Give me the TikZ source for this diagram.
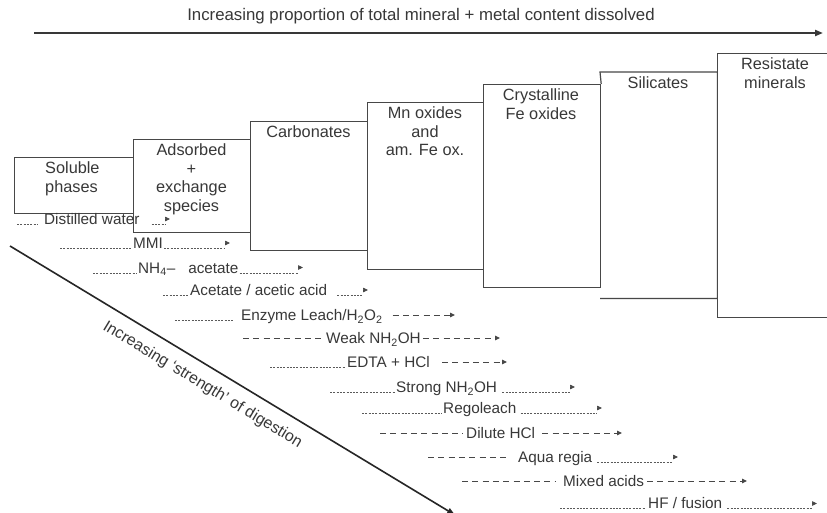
\documentclass[tikz,border=0pt]{standalone}
\usepackage{fontspec}
\setmainfont{Liberation Sans}
\usetikzlibrary{arrows.meta}
\definecolor{ink}{HTML}{383838}
\definecolor{edge}{HTML}{474747}
\definecolor{dotc}{HTML}{5A5A5A}
\begin{document}
\begin{tikzpicture}[x=1pt,y=-1pt,
  box/.style={draw=edge, line width=1.2pt, fill=white, inner sep=0pt, anchor=north west},
  btext/.style={font=\fontsize{16.3}{18.5}\selectfont, text=ink, align=center, inner sep=0pt, anchor=north},
  meth/.style={font=\fontsize{15.3}{18}\selectfont, text=ink, inner sep=0pt, anchor=base west},
  fine/.style={draw=dotc, line width=0.75pt, dash pattern=on 2pt off 1.3pt},
  longdash/.style={draw=edge, line width=1pt, dash pattern=on 6pt off 4.3pt},
  tip/.style={-{Triangle[length=5pt,width=4.5pt]}},
  tiponly/.style={draw=edge, line width=0.7pt, -{Triangle[length=5pt,width=4.5pt]}}
]
\useasboundingbox (0,0) rectangle (827,512);
\fill[white] (0,0) rectangle (827,512);

% title and top arrow
\node[font=\fontsize{16.8}{20}\selectfont, text=ink, inner sep=0pt] (title) at (421,16) {Increasing proportion of total mineral + metal content dissolved};
\coordinate (ta) at (34,33);
\coordinate (tb) at (823,33);
\draw[draw=ink, line width=2.2pt, -{Triangle[length=8pt,width=6pt]}] (ta) -- (tb);

% boxes
\node[box, minimum width=119pt, minimum height=56pt] (sol) at (14,157) {};
\node[box, minimum width=117pt, minimum height=93pt] (ads) at (133,139) {};
\node[box, minimum width=117pt, minimum height=129pt] (carb) at (250,121) {};
\node[box, minimum width=116pt, minimum height=167pt] (mn) at (367,102) {};
\node[box, minimum width=117pt, minimum height=203pt] (cry) at (483,84) {};
\node[inner sep=0pt, anchor=north west, minimum width=117pt, minimum height=226pt] (sil) at (600,72) {};
\draw[draw=edge, line width=1.2pt] (cry.north east) -- (sil.north west) -- (sil.north east) -- (sil.south east) -- (sil.south west);
\node[box, minimum width=140pt, minimum height=264pt] (res) at (717,53) {};

\node[btext, anchor=north west, align=left] (solt) at (45,161.5) {Soluble\\phases};
\node[btext] (adst) at (191.5,143.5) {Adsorbed\\+\\exchange\\species};
\node[btext] (carbt) at (308.5,125.5) {Carbonates};
\node[btext] (mnt) at (425,106.5) {Mn oxides\\and\\am. Fe ox.};
\node[btext] (cryt) at (541,88.5) {Crystalline\\Fe oxides};
\node[btext] (silt) at (658,76.5) {Silicates};
\node[btext] (rest) at (775,57.5) {Resistate\\minerals};

% diagonal arrow
\coordinate (d1) at (10,246);
\coordinate (d2) at (455,515);
\draw[draw=black!85, line width=1.6pt, -{Triangle[length=8pt,width=6pt]}] (d1) -- (d2)
  node[pos=0.455, sloped, below=10pt, inner sep=1pt, font=\fontsize{16}{18}\selectfont, text=ink] (dl) {Increasing ‘strength’ of digestion};

% method rows
% 1
\node[meth] (m1) at (44,224.5) {Distilled water};
\coordinate (m1s) at (17,224.5); \coordinate (m1e) at (170,219);
\draw[fine] (m1s) -- ([xshift=-7pt]m1.base west);
\draw[fine] ([xshift=12pt]m1.base east) -- ([xshift=-5pt]m1e |- m1.base);
\draw[tiponly] ([xshift=-5pt]m1e) -- (m1e);
% 2
\node[meth] (m2) at (133,248.5) {MMI};
\coordinate (m2s) at (60,248.5); \coordinate (m2e) at (230,243);
\draw[fine] (m2s) -- ([xshift=-1pt]m2.base west);
\draw[fine] ([xshift=1pt]m2.base east) -- ([xshift=-5pt]m2e |- m2.base);
\draw[tiponly] ([xshift=-5pt]m2e) -- (m2e);
% 3
\node[meth] (m3) at (138,273) {NH\textsubscript{4}–\hspace{13pt}acetate};
\coordinate (m3s) at (93,273); \coordinate (m3e) at (303,267.5);
\draw[fine] (m3s) -- ([xshift=-1pt]m3.base west);
\draw[fine] ([xshift=1pt]m3.base east) -- ([xshift=-5pt]m3e |- m3.base);
\draw[tiponly] ([xshift=-5pt]m3e) -- (m3e);
% 4
\node[meth] (m4) at (190,295.5) {Acetate / acetic acid};
\coordinate (m4s) at (163,295.5); \coordinate (m4e) at (368,290);
\draw[fine] (m4s) -- ([xshift=-2pt]m4.base west);
\draw[fine] ([xshift=10pt]m4.base east) -- ([xshift=-5pt]m4e |- m4.base);
\draw[tiponly] ([xshift=-5pt]m4e) -- (m4e);
% 5
\node[meth] (m5) at (241,320.5) {Enzyme Leach/H\textsubscript{2}O\textsubscript{2}};
\coordinate (m5s) at (175,320.5); \coordinate (m5e) at (455,315);
\draw[fine] (m5s) -- ([xshift=-8pt]m5.base west);
\draw[longdash, tip] ([xshift=10pt, yshift=5.5pt]m5.base east) -- (m5e);
% 6
\node[meth] (m6) at (326,343.5) {Weak NH\textsubscript{2}OH};
\coordinate (m6s) at (243,338); \coordinate (m6e) at (500,338);
\draw[longdash] (m6s) -- ([xshift=-3pt, yshift=5.5pt]m6.base west);
\draw[longdash, tip] ([xshift=2pt, yshift=5.5pt]m6.base east) -- (m6e);
% 7
\node[meth] (m7) at (347,367.5) {EDTA + HCl};
\coordinate (m7s) at (270,367.5); \coordinate (m7e) at (507,362);
\draw[fine] (m7s) -- ([xshift=-2pt]m7.base west);
\draw[longdash, tip] ([xshift=12pt, yshift=5.5pt]m7.base east) -- (m7e);
% 8
\node[meth] (m8) at (396,392.5) {Strong NH\textsubscript{2}OH};
\coordinate (m8s) at (330,392.5); \coordinate (m8e) at (575,387);
\draw[fine] (m8s) -- ([xshift=-1pt]m8.base west);
\draw[fine] ([xshift=5pt]m8.base east) -- ([xshift=-5pt]m8e |- m8.base);
\draw[tiponly] ([xshift=-5pt]m8e) -- (m8e);
% 9
\node[meth] (m9) at (443,413.5) {Regoleach};
\coordinate (m9s) at (362,413.5); \coordinate (m9e) at (602,408);
\draw[fine] (m9s) -- ([xshift=-1pt]m9.base west);
\draw[fine] ([xshift=4pt]m9.base east) -- ([xshift=-5pt]m9e |- m9.base);
\draw[tiponly] ([xshift=-5pt]m9e) -- (m9e);
% 10
\node[meth] (m10) at (466,438.5) {Dilute HCl};
\coordinate (m10s) at (380,433); \coordinate (m10e) at (622,433);
\draw[longdash] (m10s) -- ([xshift=-3pt, yshift=5.5pt]m10.base west);
\draw[longdash, tip] ([xshift=7pt, yshift=5.5pt]m10.base east) -- (m10e);
% 11
\node[meth] (m11) at (518,462.5) {Aqua regia};
\coordinate (m11s) at (428,457); \coordinate (m11e) at (678,457);
\draw[longdash] (m11s) -- ([xshift=-8pt, yshift=5.5pt]m11.base west);
\draw[fine] ([xshift=5pt]m11.base east) -- ([xshift=-5pt]m11e |- m11.base);
\draw[tiponly] ([xshift=-5pt]m11e) -- (m11e);
% 12
\node[meth] (m12) at (563,486.5) {Mixed acids};
\coordinate (m12s) at (462,481); \coordinate (m12e) at (747,481);
\draw[longdash] (m12s) -- ([xshift=-8pt, yshift=5.5pt]m12.base west);
\draw[longdash, tip] ([xshift=3pt, yshift=5.5pt]m12.base east) -- (m12e);
% 13
\node[meth] (m13) at (648,508.5) {HF / fusion};
\coordinate (m13s) at (560,508.5); \coordinate (m13e) at (817,503.5);
\draw[fine] (m13s) -- ([xshift=-3pt]m13.base west);
\draw[fine] ([xshift=5pt]m13.base east) -- ([xshift=-5pt]m13e |- m13.base);
\draw[tiponly] ([xshift=-5pt]m13e) -- (m13e);
\end{tikzpicture}
\end{document}
